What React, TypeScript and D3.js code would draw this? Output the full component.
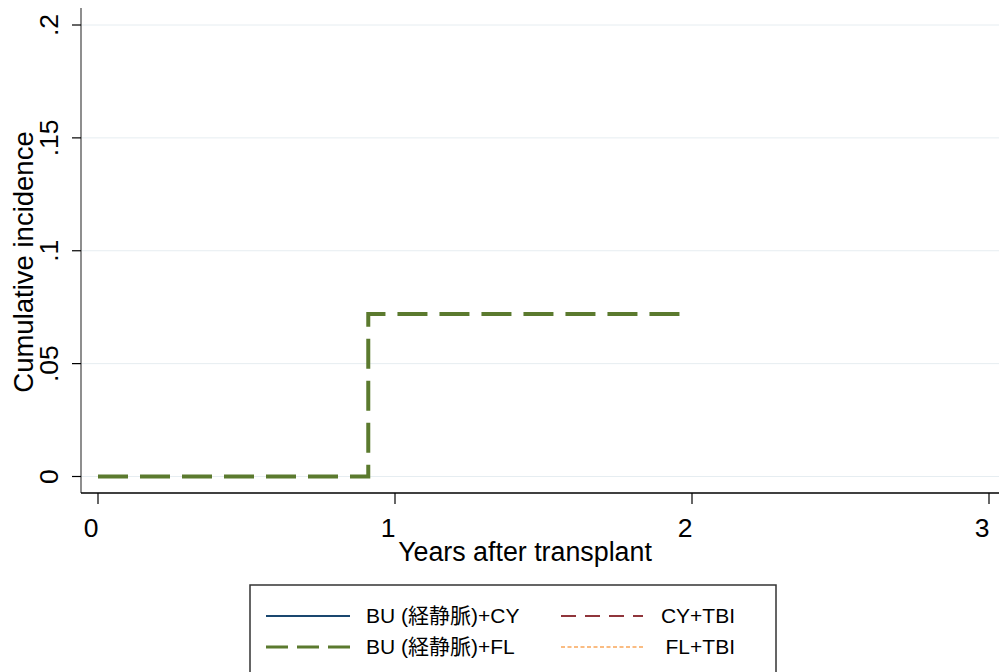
import React from "react";
import * as d3 from "d3";

const yTicks = [0, 0.05, 0.1, 0.15, 0.2];
const yTickLabels = ["0", ".05", ".1", ".15", ".2"];
const xTicks = [0, 1, 2, 3];
const xTickLabels = ["0", "1", "2", "3"];

// BU (経静脈)+FL cumulative incidence (step function)
const buFlTimes = [0, 0.91, 1.98];
const buFlValues = [0, 0.072, 0.072];

const legendLabels = ["BU (経静脈)+CY", "BU (経静脈)+FL", "CY+TBI", "FL+TBI"];
const legendColors = ["#1a476f", "#5b7a2e", "#90353b", "#f9a65a"];

const W = 999;
const H = 672;
const FONT = "'Liberation Sans', Arial, 'Noto Sans CJK JP', sans-serif";

export default function App() {
  const x = d3.scaleLinear().domain([0, 3]).range([98, 989]);
  const y = d3.scaleLinear().domain([0, 0.2]).range([476.5, 25]);
  const plotLeft = 81;
  const plotBottom = 493;

  const pts = buFlTimes.map((t, i) => [t, buFlValues[i]] as [number, number]);
  const line = d3
    .line<[number, number]>()
    .x((d) => x(d[0]))
    .y((d) => y(d[1]))
    .curve(d3.curveStepAfter);

  const legendItems = [
    { label: legendLabels[0], color: legendColors[0], dash: "none", w: 2, x1: 266, x2: 350, ty: 616, tx: 366, anchor: "start" },
    { label: legendLabels[1], color: legendColors[1], dash: "22,9", w: 3, x1: 266, x2: 350, ty: 647, tx: 366, anchor: "start" },
    { label: legendLabels[2], color: legendColors[2], dash: "15,9", w: 2, x1: 561, x2: 643, ty: 616, tx: 735, anchor: "end" },
    { label: legendLabels[3], color: legendColors[3], dash: "4,2.5", w: 1.5, x1: 561, x2: 643, ty: 647, tx: 735, anchor: "end" },
  ];

  return (
    <svg
      width={W}
      height={H}
      style={{ position: "absolute", left: 0, top: 0, background: "#fff" }}
      fontFamily={FONT}
    >
      <rect x={0} y={0} width={W} height={H} fill="#fff" />
      {/* gridlines */}
      {yTicks.map((t) => (
        <line key={"g" + t} x1={plotLeft} x2={W} y1={y(t)} y2={y(t)} stroke="#e6edf1" strokeWidth={1} />
      ))}
      {/* y axis */}
      <line x1={plotLeft} x2={plotLeft} y1={8} y2={plotBottom} stroke="#444" strokeWidth={1.2} />
      {yTicks.map((t, i) => (
        <g key={"yt" + t}>
          <line x1={72} x2={plotLeft} y1={y(t)} y2={y(t)} stroke="#000" strokeWidth={1.2} />
          <text
            transform={`translate(58,${y(t)}) rotate(-90)`}
            textAnchor="middle"
            fontSize={26.5}
            fill="#000"
          >
            {yTickLabels[i]}
          </text>
        </g>
      ))}
      <text transform={`translate(33,262) rotate(-90)`} textAnchor="middle" fontSize={27.5} fill="#000">
        Cumulative incidence
      </text>
      {/* x axis */}
      <line x1={plotLeft} x2={W} y1={plotBottom} y2={plotBottom} stroke="#000" strokeWidth={1.5} />
      {xTicks.map((t, i) => (
        <g key={"xt" + t}>
          <line x1={x(t)} x2={x(t)} y1={plotBottom} y2={504} stroke="#000" strokeWidth={1.2} />
          <text x={x(t) - 7} y={537} textAnchor="middle" fontSize={26.5} fill="#000">
            {xTickLabels[i]}
          </text>
        </g>
      ))}
      <text x={525} y={561} textAnchor="middle" fontSize={26.8} fill="#000">
        Years after transplant
      </text>
      {/* series */}
      <path
        d={line(pts) || ""}
        fill="none"
        stroke={legendColors[1]}
        strokeWidth={4}
        strokeDasharray="30,12"
      />
      {/* legend */}
      <rect x={250} y={585} width={526} height={100} fill="#fff" stroke="#333" strokeWidth={1.5} />
      {legendItems.map((it) => (
        <g key={it.label}>
          <line
            x1={it.x1}
            x2={it.x2}
            y1={it.ty}
            y2={it.ty}
            stroke={it.color}
            strokeWidth={it.w}
            strokeDasharray={it.dash}
          />
          <text x={it.tx} y={it.ty + 7} textAnchor={it.anchor as any} fontSize={21} fill="#000">
            {it.label}
          </text>
        </g>
      ))}
    </svg>
  );
}
